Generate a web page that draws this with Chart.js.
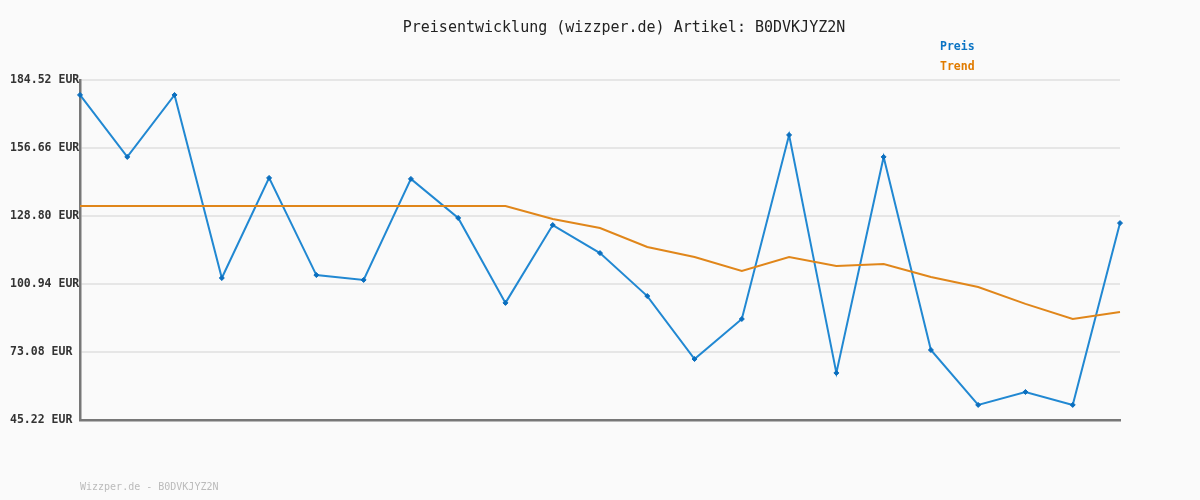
<!DOCTYPE html>
<html>
<head>
<meta charset="utf-8">
<script src="https://cdn.jsdelivr.net/npm/chart.js@4"></script>
<style>
  html, body { margin: 0; padding: 0; background: #fafafa; }
  #wrap { width: 1200px; height: 500px; }
</style>
</head>
<body>
<div id="wrap"><canvas id="priceChart" width="1200" height="500"></canvas></div>
<script>
const titleText = 'Preisentwicklung (wizzper.de) Artikel: B0DVKJYZ2N';
const footerText = 'Wizzper.de - B0DVKJYZ2N';
const labels = ['1','2','3','4','5','6','7','8','9','10','11','12','13','14','15','16','17','18','19','20','21','22','23'];
const preis = [178.4, 153.0, 178.4, 103.4, 144.4, 104.6, 102.6, 144.0, 128.0, 93.2, 125.1, 113.6, 96.0, 70.2, 86.6, 162.0, 64.5, 153.0, 73.9, 51.4, 56.7, 51.4, 125.9];
const trend = [132.9, 132.9, 132.9, 132.9, 132.9, 132.9, 132.9, 132.9, 132.9, 132.9, 127.6, 123.9, 116.1, 112.0, 106.3, 112.0, 108.3, 109.1, 103.8, 99.7, 92.8, 86.6, 89.5];
const yTicks = [45.22, 73.08, 100.94, 128.80, 156.66, 184.52];

const mono = '"DejaVu Sans Mono", "Liberation Mono", monospace';

const textPlugin = {
  id: 'texts',
  beforeDraw(chart) {
    const ctx = chart.ctx;
    ctx.save();
    ctx.fillStyle = '#fafafa';
    ctx.fillRect(0, 0, chart.width, chart.height);
    ctx.restore();
  },
  afterDraw(chart) {
    const ctx = chart.ctx;
    ctx.save();
    ctx.textBaseline = 'middle';
    ctx.font = '15px ' + mono;
    ctx.fillStyle = '#222';
    ctx.textAlign = 'center';
    ctx.fillText(titleText, 624, 28);

    ctx.textAlign = 'left';
    ctx.font = 'bold 11.5px ' + mono;
    ctx.fillStyle = '#0b74c4';
    ctx.fillText('Preis', 940, 47);
    ctx.fillStyle = '#e07b00';
    ctx.fillText('Trend', 940, 67);

    ctx.font = '10px ' + mono;
    ctx.fillStyle = '#bbbbbb';
    ctx.fillText(footerText, 80, 487);
    ctx.restore();
  }
};

new Chart(document.getElementById('priceChart').getContext('2d'), {
  type: 'line',
  data: {
    labels: labels,
    datasets: [{
      label: 'Trend',
      data: trend,
      borderColor: '#e0861a',
      borderWidth: 2,
      pointRadius: 0,
      tension: 0,
      fill: false
    }, {
      label: 'Preis',
      data: preis,
      borderColor: '#2188d2',
      backgroundColor: '#0b6fbf',
      borderWidth: 2,
      pointStyle: 'rectRot',
      pointRadius: 2.5,
      pointBorderWidth: 1,
      pointBorderColor: '#0b6fbf',
      tension: 0,
      fill: false
    }]
  },
  options: {
    responsive: false,
    animation: false,
    layout: { padding: { left: 10, right: 80, top: 80, bottom: 80 } },
    plugins: {
      legend: { display: false },
      title: { display: false },
      tooltip: { enabled: false }
    },
    scales: {
      x: {
        grid: { display: false },
        border: { display: true, color: '#777777', width: 2.5 },
        ticks: { display: false },
        afterFit(scale) { scale.height = 0; }
      },
      y: {
        min: 45.22,
        max: 184.52,
        afterBuildTicks(scale) { scale.ticks = yTicks.map(v => ({ value: v })); },
        afterFit(scale) { scale.width = 70; },
        grid: { color: '#e6e6e6', lineWidth: 2, drawTicks: false },
        border: { display: true, color: '#777777', width: 2.5 },
        ticks: {
          crossAlign: 'far',
          padding: 0,
          color: '#333',
          font: { family: mono, size: 11.5, weight: 'bold' },
          callback: v => Number(v).toFixed(2) + ' EUR'
        }
      }
    }
  },
  plugins: [textPlugin]
});
</script>
</body>
</html>
